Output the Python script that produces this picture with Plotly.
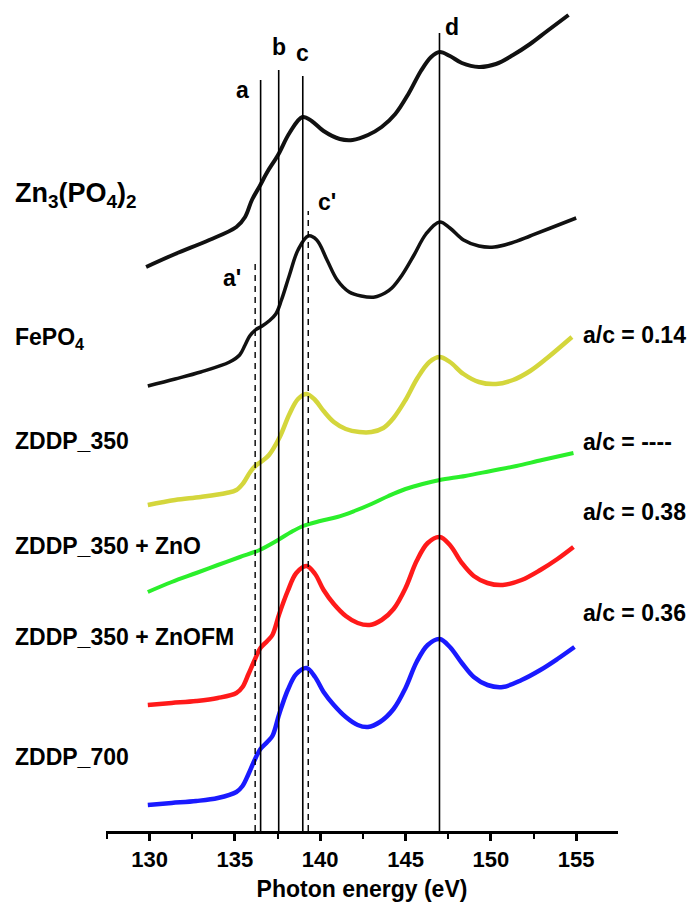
import plotly.graph_objects as go

# ---- data (photon energy in eV, stacked normalized intensity, a.u.) ----
zn3_e = [129.8, 131.5, 133.5, 135.09, 135.6, 136.0, 136.46, 136.9, 137.53, 138.2, 138.96, 139.5, 140.2,
         141.15, 141.9, 142.8, 143.6, 144.4, 145.2, 145.9, 146.5, 147.0, 147.6, 148.3, 149.3, 150.3,
         151.3, 152.3, 153.3, 154.55]
zn3_i = [5.64, 5.77, 5.91, 6.04, 6.14, 6.31, 6.45, 6.59, 6.76, 6.98, 7.14, 7.10, 7.00,
         6.92, 6.91, 6.96, 7.04, 7.17, 7.38, 7.60, 7.74, 7.79, 7.75, 7.68, 7.64, 7.67,
         7.76, 7.87, 8.00, 8.16]

fepo4_e = [129.9, 131.5, 133.0, 134.69, 135.28, 135.6, 135.87, 136.2, 136.6, 137.0, 137.4, 137.73,
           138.2, 138.7, 139.3, 139.8, 140.4, 141.0, 141.7, 142.4, 143.2, 143.8, 144.2, 144.8,
           145.5, 146.2, 147.0, 147.6, 148.4, 149.3, 150.2, 151.2, 152.3, 153.5, 155.0]
fepo4_i = [4.45, 4.52, 4.59, 4.69, 4.76, 4.86, 4.95, 5.01, 5.05, 5.10, 5.17, 5.31,
           5.56, 5.81, 5.95, 5.91, 5.71, 5.51, 5.39, 5.35, 5.34, 5.38, 5.43, 5.56,
           5.76, 5.97, 6.09, 6.03, 5.91, 5.85, 5.84, 5.88, 5.95, 6.03, 6.13]

z350_e = [129.9, 131.5, 133.0, 134.5, 135.09, 135.5, 135.9, 136.2, 136.6, 137.0, 137.63, 138.2,
          138.7, 139.2, 139.7, 140.2, 140.8, 141.5, 142.3, 143.0, 143.7, 144.3, 145.0, 145.7,
          146.4, 147.0, 147.6, 148.4, 149.3, 150.3, 151.3, 152.3, 153.3, 154.75]
z350_i = [3.26, 3.31, 3.34, 3.38, 3.41, 3.48, 3.59, 3.65, 3.70, 3.76, 3.94, 4.17,
          4.32, 4.37, 4.31, 4.20, 4.09, 4.02, 3.99, 3.99, 4.03, 4.13, 4.31, 4.53,
          4.69, 4.74, 4.69, 4.57, 4.49, 4.47, 4.51, 4.60, 4.73, 4.94]

zno_e = [129.9, 131.3, 132.74, 134.0, 135.3, 136.45, 137.53, 138.3, 139.0, 140.0, 141.0, 142.0,
         143.0, 144.0, 145.0, 146.0, 147.0, 148.5, 150.0, 151.5, 153.0, 154.84]
zno_i = [2.39, 2.49, 2.58, 2.66, 2.74, 2.81, 2.91, 2.99, 3.05, 3.10, 3.14, 3.20,
         3.27, 3.35, 3.42, 3.47, 3.51, 3.55, 3.60, 3.65, 3.71, 3.78]

znofm_e = [129.9, 131.3, 132.74, 134.0, 135.09, 135.45, 135.8, 136.16, 136.5, 136.9, 137.2, 137.6,
           138.1, 138.6, 139.2, 139.7, 140.2, 140.8, 141.5, 142.2, 142.9, 143.6, 144.3, 145.0,
           145.65, 146.3, 147.0, 147.6, 148.3, 149.0, 149.8, 150.7, 151.8, 152.9, 153.9, 154.84]
znofm_i = [1.26, 1.28, 1.30, 1.33, 1.38, 1.44, 1.57, 1.71, 1.83, 1.90, 1.96, 2.17,
           2.40, 2.58, 2.65, 2.57, 2.41, 2.27, 2.15, 2.08, 2.06, 2.11, 2.22, 2.43,
           2.70, 2.88, 2.94, 2.86, 2.68, 2.55, 2.48, 2.46, 2.51, 2.61, 2.72, 2.84]

z700_e = [129.9, 131.3, 132.74, 134.0, 135.09, 135.45, 135.8, 136.16, 136.5, 136.9, 137.2, 137.6,
          138.1, 138.6, 139.2, 139.7, 140.2, 140.8, 141.5, 142.2, 142.8, 143.5, 144.3, 145.0,
          145.65, 146.3, 147.0, 147.6, 148.3, 149.0, 149.8, 150.7, 151.8, 152.9, 153.9, 154.9]
z700_i = [0.26, 0.28, 0.30, 0.33, 0.39, 0.45, 0.57, 0.71, 0.82, 0.89, 0.95, 1.17,
          1.41, 1.57, 1.63, 1.54, 1.39, 1.26, 1.14, 1.06, 1.04, 1.09, 1.22, 1.43,
          1.69, 1.86, 1.92, 1.84, 1.68, 1.54, 1.46, 1.44, 1.51, 1.61, 1.72, 1.84]

series_names = ["Zn3(PO4)2", "FePO4", "ZDDP_350", "ZDDP_350 + ZnO", "ZDDP_350 + ZnOFM", "ZDDP_700"]
series_labels = ["Zn<sub>3</sub>(PO<sub>4</sub>)<sub>2</sub>", "FePO<sub>4</sub>", "ZDDP_350",
                 "ZDDP_350 + ZnO", "ZDDP_350 + ZnOFM", "ZDDP_700"]
series_colors = ["#111111", "#111111", "#d4d63c", "#2bef2b", "#ff1a1a", "#1a1aff"]
series_label_y = [6.36, 4.93, 3.90, 2.85, 1.94, 0.74]
series_label_size = [27, 23, 23, 23, 23, 23]

ratio_labels = ["a/c = 0.14", "a/c = ----", "a/c = 0.38", "a/c = 0.36"]
ratio_y = [4.96, 3.89, 3.19, 2.18]

# reference energy lines
line_labels = ["a", "b", "c", "d", "a'", "c'"]
line_energy = [136.51, 137.57, 138.98, 146.99, 136.19, 139.30]
line_top = [7.51, 7.61, 7.55, 7.98, 5.69, 6.20]
line_dashed = [False, False, False, False, True, True]
label_x = [135.45, 137.57, 138.95, 147.7, 134.85, 140.4]
label_y = [7.41, 7.84, 7.78, 8.04, 5.53, 6.29]

x_ticks = [130, 135, 140, 145, 150, 155]

FONT = "Liberation Sans, Arial, sans-serif"

fig = go.Figure()

energies = [zn3_e, fepo4_e, z350_e, zno_e, znofm_e, z700_e]
intens = [zn3_i, fepo4_i, z350_i, zno_i, znofm_i, z700_i]
widths = [4, 3.5, 4.5, 4, 4.5, 4.5]
for name, e, i, c, w in zip(series_names, energies, intens, series_colors, widths):
    fig.add_trace(go.Scatter(x=e, y=i, mode="lines", name=name,
                             line=dict(color=c, width=w, shape="spline", smoothing=1.0),
                             showlegend=False, hoverinfo="skip"))

for lab, e, top, dsh in zip(line_labels, line_energy, line_top, line_dashed):
    fig.add_trace(go.Scatter(x=[e, e], y=[0, top], mode="lines",
                             line=dict(color="black", width=1.6 if not dsh else 1.4,
                                       dash="6px,5px" if dsh else "solid"),
                             showlegend=False, hoverinfo="skip"))

for lab, lx, ly in zip(line_labels, label_x, label_y):
    fig.add_annotation(x=lx, y=ly, xref="x", yref="y", text=lab, showarrow=False,
                       font=dict(family=FONT, size=23, color="black", weight="bold"))

for lab, ly, fs in zip(series_labels, series_label_y, series_label_size):
    fig.add_annotation(x=-0.182, y=ly, xref="paper", yref="y", text=lab, showarrow=False,
                       xanchor="left", yanchor="middle",
                       font=dict(family=FONT, size=fs, color="black", weight="bold"))

for lab, ly in zip(ratio_labels, ratio_y):
    fig.add_annotation(x=0.928, y=ly, xref="paper", yref="y", text=lab, showarrow=False,
                       xanchor="left", yanchor="middle",
                       font=dict(family=FONT, size=23, color="black", weight="bold"))

fig.update_layout(
    width=689, height=907,
    margin=dict(l=106, r=71, t=0, b=76),
    paper_bgcolor="white", plot_bgcolor="white",
    xaxis=dict(range=[127.45, 157.45], tickvals=x_ticks, ticktext=[str(t) for t in x_ticks],
               ticks="outside", ticklen=7, tickwidth=2.5, tickcolor="black",
               showline=True, linecolor="black", linewidth=3, showgrid=False, zeroline=False,
               minor=dict(tickmode="linear", tick0=127.5, dtick=2.5, ticks="outside",
                          ticklen=5, tickwidth=2, tickcolor="black", showgrid=False),
               tickfont=dict(family=FONT, size=22, color="black", weight="bold"),
               title=dict(text="Photon energy (eV)", standoff=10,
                          font=dict(family=FONT, size=23, color="black", weight="bold"))),
    yaxis=dict(range=[0, 8.31], visible=False, showgrid=False, zeroline=False),
)

fig.write_html("out.html", config={"displayModeBar": False},
               post_script="document.body.style.margin='0px';")
